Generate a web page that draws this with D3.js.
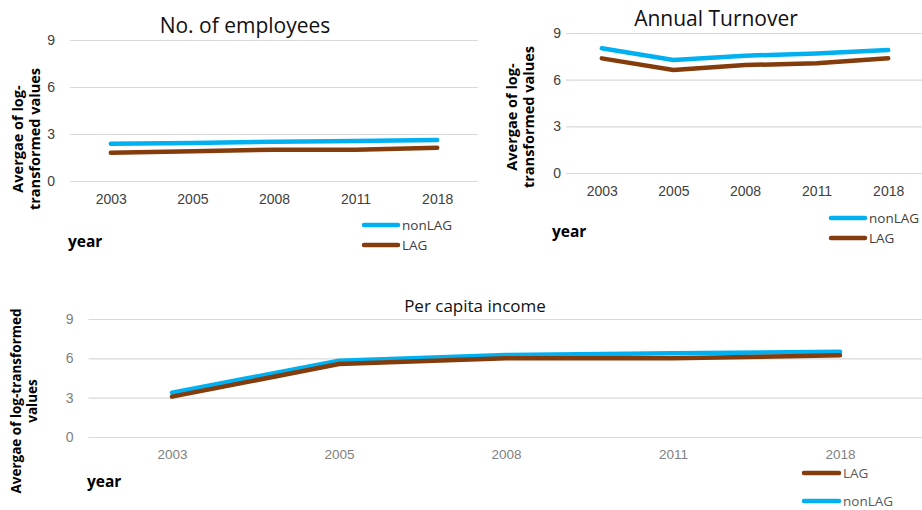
<!DOCTYPE html>
<html>
<head>
<meta charset="utf-8">
<script src="https://cdn.jsdelivr.net/npm/d3@7"></script>
<style>
  html, body { margin: 0; padding: 0; background: #fff; }
  svg { display: block; font-family: "Open Sans", Lato, sans-serif; }
</style>
</head>
<body>
<svg id="chart" width="922" height="510"></svg>
<script>
const years = ["2003", "2005", "2008", "2011", "2018"];
const yTicks = [0, 3, 6, 9];
const seriesNames = ["nonLAG", "LAG"];

const employeesNonLAG = [2.38, 2.43, 2.50, 2.55, 2.62];
const employeesLAG = [1.80, 1.90, 2.00, 2.00, 2.12];

const turnoverNonLAG = [8.02, 7.26, 7.54, 7.69, 7.90];
const turnoverLAG = [7.37, 6.62, 6.94, 7.05, 7.37];

const incomeNonLAG = [3.38, 5.82, 6.25, 6.38, 6.51];
const incomeLAG = [3.08, 5.57, 6.00, 6.00, 6.23];

const colors = { nonLAG: "#00B0F0", LAG: "#843C0C" };

const svg = d3.select("#chart");

function drawChart(cfg) {
  const g = svg.append("g");
  const x = d3.scalePoint().domain(years).range([cfg.x0, cfg.x1]).padding(0.5);
  const y = d3.scaleLinear().domain([0, 9]).range([cfg.y0, cfg.y1]);

  // gridlines + y labels
  const ya = g.append("g")
    .attr("transform", `translate(${cfg.x0},0)`)
    .call(d3.axisLeft(y).tickValues(yTicks).tickSize(-(cfg.x1 - cfg.x0)).tickPadding(cfg.yPad).tickFormat(d3.format("d")));
  ya.select(".domain").remove();
  ya.selectAll(".tick line").attr("stroke", "#d9d9d9").attr("stroke-width", 1.2);
  ya.selectAll(".tick text").attr("fill", cfg.tickColor).style("font-size", cfg.yTickSize + "px")
    .style("font-family", "inherit");

  // x labels
  const xa = g.append("g")
    .attr("transform", `translate(0,${cfg.y0})`)
    .call(d3.axisBottom(x).tickSize(0).tickPadding(cfg.xPad));
  xa.select(".domain").remove();
  xa.selectAll(".tick text").attr("fill", cfg.tickColor).style("font-size", cfg.xTickSize + "px")
    .style("font-family", "inherit");

  // lines
  const line = d3.line().x((d, i) => x(years[i])).y(d => y(d));
  cfg.order.forEach(name => {
    g.append("path")
      .datum(cfg.data[name])
      .attr("fill", "none")
      .attr("stroke", colors[name])
      .attr("stroke-width", 4.5)
      .attr("stroke-linecap", "round")
      .attr("stroke-linejoin", "round")
      .attr("d", line);
  });

  // title
  g.append("text")
    .attr("x", cfg.titleX).attr("y", cfg.titleY)
    .attr("text-anchor", "middle")
    .attr("fill", "#111")
    .style("font-size", cfg.titleSize + "px")
    .text(cfg.title);

  // y axis title
  const yt = g.append("text")
    .attr("transform", `translate(${cfg.ytX},${cfg.ytY}) rotate(-90)`)
    .attr("text-anchor", "middle")
    .attr("fill", "#000")
    .style("font-size", cfg.ytSize + "px")
    .style("font-weight", "bold");
  cfg.ytLines.forEach((t, i) => {
    yt.append("tspan").attr("x", 0).attr("dy", i === 0 ? 0 : cfg.ytGap).text(t);
  });

  // x axis title
  g.append("text")
    .attr("x", cfg.yearX).attr("y", cfg.yearY)
    .attr("fill", "#000")
    .style("font-size", "15.5px")
    .style("font-weight", "bold")
    .text("year");

  // legend
  cfg.legendOrder.forEach((name, i) => {
    const ly = cfg.legY + i * cfg.legGap;
    g.append("line")
      .attr("x1", cfg.legX).attr("x2", cfg.legX + cfg.legLen)
      .attr("y1", ly).attr("y2", ly)
      .attr("stroke", colors[name]).attr("stroke-width", 4.5)
      .attr("stroke-linecap", "round");
    g.append("text")
      .attr("x", cfg.legX + cfg.legLen + 4).attr("y", ly)
      .attr("dy", "0.35em")
      .attr("fill", cfg.legColor)
      .style("font-size", "13.5px")
      .text(name);
  });
}

drawChart({
  x0: 70, x1: 478, y0: 181, y1: 40,
  data: { nonLAG: employeesNonLAG, LAG: employeesLAG },
  order: ["nonLAG", "LAG"], legendOrder: ["nonLAG", "LAG"],
  title: "No. of employees", titleX: 245, titleY: 33, titleSize: 21,
  tickColor: "#404040", yTickSize: 14, xTickSize: 14, yPad: 15, xPad: 13,
  ytLines: ["Avergae of log-", "transformed values"], ytX: 23, ytY: 139, ytGap: 17, ytSize: 14.5,
  yearX: 68, yearY: 247,
  legX: 364, legLen: 34, legY: 225, legGap: 20, legColor: "#404040"
});

drawChart({
  x0: 566, x1: 924, y0: 173, y1: 33,
  data: { nonLAG: turnoverNonLAG, LAG: turnoverLAG },
  order: ["nonLAG", "LAG"], legendOrder: ["nonLAG", "LAG"],
  title: "Annual Turnover", titleX: 716, titleY: 26, titleSize: 21,
  tickColor: "#404040", yTickSize: 14, xTickSize: 14, yPad: 5, xPad: 13,
  ytLines: ["Avergae of log-", "transformed values"], ytX: 517, ytY: 117, ytGap: 17, ytSize: 14.5,
  yearX: 552, yearY: 237,
  legX: 831, legLen: 34, legY: 218, legGap: 20, legColor: "#404040"
});

drawChart({
  x0: 88.5, x1: 923.5, y0: 437, y1: 319,
  data: { nonLAG: incomeNonLAG, LAG: incomeLAG },
  order: ["nonLAG", "LAG"], legendOrder: ["LAG", "nonLAG"],
  title: "Per capita income", titleX: 475, titleY: 312, titleSize: 17,
  tickColor: "#7f7f7f", yTickSize: 14, xTickSize: 13.5, yPad: 15, xPad: 12,
  ytLines: ["Avergae of log-transformed", "values"], ytX: 21, ytY: 401, ytGap: 16, ytSize: 13.5,
  yearX: 87, yearY: 487,
  legX: 804, legLen: 35, legY: 473, legGap: 28, legColor: "#595959"
});
</script>
</body>
</html>
